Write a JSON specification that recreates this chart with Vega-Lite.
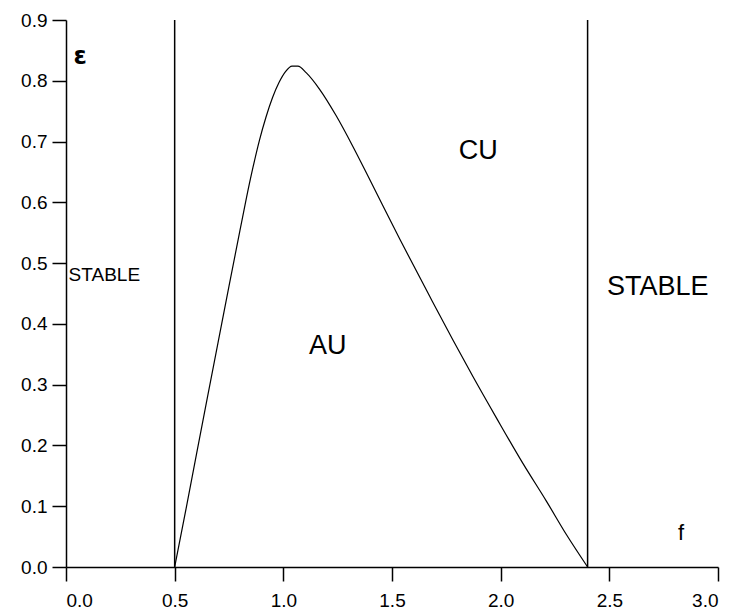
{
  "$schema": "https://vega.github.io/schema/vega-lite/v6.json",
  "width": 652,
  "height": 547,
  "autosize": "none",
  "padding": {"left": 66, "top": 20, "right": 18, "bottom": 44},
  "background": "white",
  "config": {
    "view": {"stroke": null},
    "axis": {
      "domainColor": "black", "domainWidth": 1.5,
      "tickColor": "black", "tickWidth": 1.5, "tickSize": 14,
      "labelColor": "black", "labelFont": "Liberation Sans", "labelFontSize": 19,
      "grid": false, "title": null
    },
    "axisX": {"labelPadding": 10},
    "axisY": {"labelPadding": 5}
  },
  "datasets": {
    "curve": [
      {"f": 0.5, "eps": 0.0},
      {"f": 0.553, "eps": 0.097},
      {"f": 0.6, "eps": 0.185},
      {"f": 0.65, "eps": 0.278},
      {"f": 0.7, "eps": 0.37},
      {"f": 0.75, "eps": 0.462},
      {"f": 0.8, "eps": 0.553},
      {"f": 0.83, "eps": 0.607},
      {"f": 0.86, "eps": 0.657},
      {"f": 0.89, "eps": 0.702},
      {"f": 0.92, "eps": 0.74},
      {"f": 0.95, "eps": 0.772},
      {"f": 0.98, "eps": 0.797},
      {"f": 1.01, "eps": 0.815},
      {"f": 1.04, "eps": 0.824},
      {"f": 1.067, "eps": 0.824},
      {"f": 1.106, "eps": 0.813},
      {"f": 1.167, "eps": 0.786},
      {"f": 1.244, "eps": 0.742},
      {"f": 1.32, "eps": 0.692},
      {"f": 1.39, "eps": 0.643},
      {"f": 1.535, "eps": 0.54},
      {"f": 1.674, "eps": 0.445},
      {"f": 1.781, "eps": 0.373},
      {"f": 1.873, "eps": 0.313},
      {"f": 1.981, "eps": 0.245},
      {"f": 2.103, "eps": 0.17},
      {"f": 2.211, "eps": 0.108},
      {"f": 2.303, "eps": 0.053},
      {"f": 2.4, "eps": 0.0}
    ],
    "bounds": [
      {"f": 0.5, "lo": 0, "hi": 0.9},
      {"f": 2.4, "lo": 0, "hi": 0.9}
    ],
    "bigLabels": [
      {"label": "CU", "f": 1.897, "eps": 0.684},
      {"label": "AU", "f": 1.204, "eps": 0.363},
      {"label": "STABLE", "f": 2.723, "eps": 0.46}
    ],
    "smallLabels": [
      {"label": "STABLE", "f": 0.012, "eps": 0.48}
    ],
    "symbols": [
      {"label": "ε", "f": 0.065, "eps": 0.839}
    ],
    "xlabel": [
      {"label": "f", "f": 2.83, "eps": 0.056}
    ]
  },
  "layer": [
    {
      "data": {"name": "bounds"},
      "mark": {"type": "rule", "color": "black", "strokeWidth": 1.5},
      "encoding": {
        "x": {"field": "f", "type": "quantitative",
          "scale": {"domain": [0, 3], "nice": false, "zero": false},
          "axis": {"values": [0, 0.5, 1, 1.5, 2, 2.5, 3], "format": ".1f"}},
        "y": {"field": "lo", "type": "quantitative",
          "scale": {"domain": [0, 0.9], "nice": false, "zero": false},
          "axis": {"values": [0, 0.1, 0.2, 0.3, 0.4, 0.5, 0.6, 0.7, 0.8, 0.9], "format": ".1f"}},
        "y2": {"field": "hi"}
      }
    },
    {
      "data": {"name": "curve"},
      "mark": {"type": "line", "color": "black", "strokeWidth": 1.2, "interpolate": "monotone"},
      "encoding": {
        "x": {"field": "f", "type": "quantitative"},
        "y": {"field": "eps", "type": "quantitative"},
        "order": {"field": "f", "type": "quantitative"}
      }
    },
    {
      "data": {"name": "bigLabels"},
      "mark": {"type": "text", "font": "Liberation Sans", "fontSize": 27, "color": "black", "align": "center", "baseline": "middle"},
      "encoding": {
        "x": {"field": "f", "type": "quantitative"},
        "y": {"field": "eps", "type": "quantitative"},
        "text": {"field": "label"}
      }
    },
    {
      "data": {"name": "smallLabels"},
      "mark": {"type": "text", "font": "Liberation Sans", "fontSize": 19, "color": "black", "align": "left", "baseline": "middle"},
      "encoding": {
        "x": {"field": "f", "type": "quantitative"},
        "y": {"field": "eps", "type": "quantitative"},
        "text": {"field": "label"}
      }
    },
    {
      "data": {"name": "symbols"},
      "mark": {"type": "text", "font": "DejaVu Sans", "fontSize": 24, "fontWeight": "bold", "color": "black", "align": "center", "baseline": "middle"},
      "encoding": {
        "x": {"field": "f", "type": "quantitative"},
        "y": {"field": "eps", "type": "quantitative"},
        "text": {"field": "label"}
      }
    },
    {
      "data": {"name": "xlabel"},
      "mark": {"type": "text", "font": "Liberation Sans", "fontSize": 22, "color": "black", "align": "center", "baseline": "middle"},
      "encoding": {
        "x": {"field": "f", "type": "quantitative"},
        "y": {"field": "eps", "type": "quantitative"},
        "text": {"field": "label"}
      }
    }
  ]
}
